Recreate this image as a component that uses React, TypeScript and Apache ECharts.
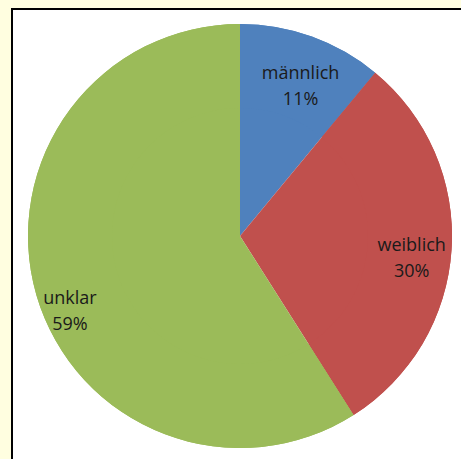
import React, { useEffect, useRef } from "react";
import * as echarts from "echarts";

const categories = ["männlich", "weiblich", "unklar"];
const values = [11, 30, 59];
const colors = ["#4F81BD", "#C0504D", "#9BBB59"];
const labelOffsets: [number, number][] = [[2, 12], [-1, 10], [-4, 26]];

export default function App() {
  const ref = useRef<HTMLDivElement>(null);
  useEffect(() => {
    document.body.style.margin = "0";
    const chart = echarts.init(ref.current!, null, { renderer: "svg" });
    const data = categories.map((name, i) => ({
      name,
      value: values[i],
      itemStyle: { color: colors[i] },
      label: { offset: labelOffsets[i] },
    }));
    chart.setOption({
      animation: false,
      backgroundColor: "transparent",
      series: [
        {
          type: "pie",
          center: [240, 236],
          radius: [0, 212],
          startAngle: 90,
          clockwise: true,
          silent: true,
          data: values.map((v, i) => ({ name: categories[i], value: v, itemStyle: { color: colors[i] } })),
          label: { show: false },
          labelLine: { show: false },
        },
        {
          type: "pie",
          center: [240, 236],
          radius: [128, 212],
          startAngle: 90,
          clockwise: true,
          silent: true,
          itemStyle: { color: "transparent" },
          data,
          label: {
            show: true,
            position: "inside",
            formatter: (p: any) => `${p.name}\n${p.value}%`,
            fontFamily: "Open Sans",
            fontSize: 18,
            lineHeight: 26,
            color: "#1a1a1a",
            align: "center",
          },
          labelLine: { show: false },
        },
      ],
    });
    return () => chart.dispose();
  }, []);
  return (
    <div style={{ position: "fixed", left: 0, top: 0, width: 461, height: 459, background: "#FFFEE0", overflow: "hidden" }}>
      <div
        style={{
          position: "absolute",
          left: 11,
          top: 8,
          right: 0,
          bottom: 0,
          background: "#fff",
          borderLeft: "2px solid #000",
          borderTop: "2px solid #000",
        }}
      />
      <div ref={ref} style={{ position: "absolute", left: 0, top: 0, width: 461, height: 459 }} />
    </div>
  );
}
